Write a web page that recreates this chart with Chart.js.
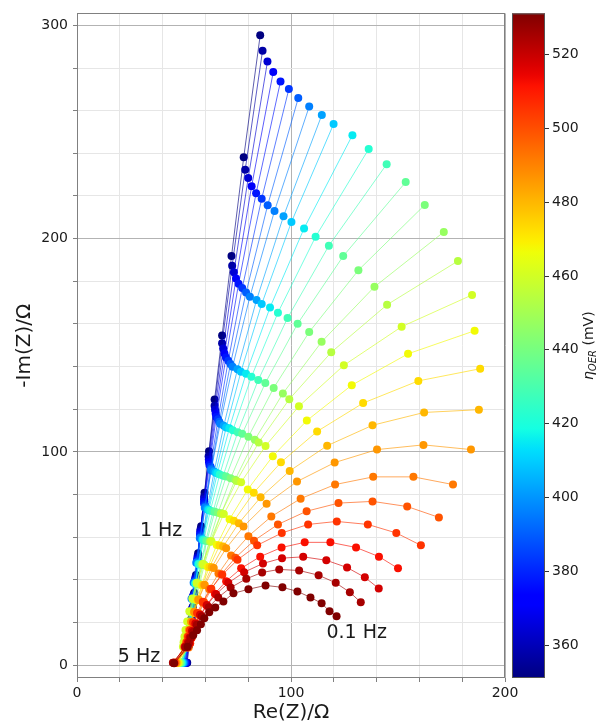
<!DOCTYPE html>
<html lang="en">
<head>
<meta charset="utf-8">
<title>Nyquist plots vs. OER overpotential</title>
<script src="https://cdn.jsdelivr.net/npm/chart.js@4.4.1/dist/chart.umd.min.js"></script>
<style>
  html, body { margin: 0; padding: 0; background: #ffffff; }
  #box { position: relative; width: 603px; height: 726px; }
</style>
</head>
<body>
<div id="box"><canvas id="nyquist"></canvas></div>
<script>
// overpotential of every spectrum (mV), lowest first
const overpotentials = [351, 357, 364, 370, 377, 383, 390, 396, 402, 409, 415, 422, 428, 435, 441,
  447, 454, 460, 467, 473, 480, 486, 492, 499, 505, 512, 518, 525, 531];

// frequency of each column (Hz), 0.1 Hz first
const frequencies = [0.1, 0.126, 0.158, 0.2, 0.251, 0.316, 0.398, 0.501, 0.631, 0.794,
  1, 1.26, 1.58, 2, 2.51, 3.16, 3.98, 5.01];

// Re(Z) in ohm, one row per spectrum
const reZ = [
  [85.6, 77.9, 72.2, 67.8, 64.3, 61.7, 59.6, 58.0, 56.6, 55.6, 54.8, 54.1, 53.6, 53.2, 52.9, 52.6, 52.4, 51.5],
  [86.7, 78.6, 72.5, 67.8, 64.3, 61.5, 59.4, 57.7, 56.4, 55.4, 54.6, 53.9, 53.4, 53.0, 52.7, 52.4, 52.2, 51.3],
  [89.0, 80.0, 73.3, 68.3, 64.5, 61.6, 59.4, 57.6, 56.3, 55.3, 54.4, 53.8, 53.3, 52.8, 52.5, 52.3, 52.0, 51.0],
  [91.7, 81.6, 74.3, 68.9, 64.8, 61.7, 59.4, 57.6, 56.3, 55.2, 54.3, 53.7, 53.2, 52.7, 52.4, 52.2, 52.0, 50.8],
  [95.1, 83.7, 75.5, 69.6, 65.1, 61.9, 59.4, 57.5, 56.1, 55.0, 54.1, 53.4, 52.9, 52.5, 52.2, 51.9, 51.7, 50.5],
  [99.0, 86.3, 77.2, 70.7, 65.9, 62.4, 59.8, 57.8, 56.3, 55.1, 54.3, 53.6, 53.0, 52.6, 52.3, 52.0, 51.8, 50.3],
  [103.4, 89.1, 79.0, 71.7, 66.5, 62.7, 59.9, 57.8, 56.2, 55.0, 54.1, 53.4, 52.8, 52.4, 52.1, 51.8, 51.6, 50.0],
  [108.5, 92.3, 80.8, 72.7, 66.9, 62.7, 59.7, 57.4, 55.7, 54.5, 53.5, 52.8, 52.2, 51.8, 51.4, 51.2, 50.9, 49.8],
  [114.4, 96.5, 83.9, 75.0, 68.6, 64.1, 60.8, 58.4, 56.6, 55.3, 54.3, 53.6, 53.0, 52.5, 52.2, 51.9, 51.7, 49.5],
  [119.9, 100.2, 86.3, 76.6, 69.7, 64.8, 61.2, 58.7, 56.8, 55.4, 54.4, 53.6, 53.0, 52.5, 52.1, 51.9, 51.6, 49.3],
  [128.7, 106.1, 90.2, 79.0, 71.2, 65.6, 61.6, 58.8, 56.7, 55.2, 54.1, 53.2, 52.6, 52.1, 51.7, 51.4, 51.2, 49.0],
  [136.3, 111.5, 93.9, 81.5, 72.8, 66.7, 62.3, 59.2, 57.0, 55.4, 54.2, 53.3, 52.6, 52.1, 51.7, 51.4, 51.2, 48.8],
  [144.7, 117.7, 98.4, 84.7, 75.1, 68.3, 63.6, 60.2, 57.8, 56.0, 54.7, 53.8, 53.1, 52.6, 52.2, 51.9, 51.6, 48.5],
  [153.6, 124.4, 103.1, 88.0, 77.2, 69.7, 64.4, 60.7, 58.0, 56.1, 54.7, 53.7, 53.0, 52.4, 52.0, 51.7, 51.4, 48.3],
  [162.5, 131.5, 108.5, 91.9, 80.1, 71.8, 65.9, 61.8, 58.9, 56.8, 55.3, 54.2, 53.4, 52.8, 52.4, 52.1, 51.8, 48.0],
  [171.4, 139.0, 114.3, 96.2, 83.1, 73.9, 67.4, 62.8, 59.5, 57.3, 55.6, 54.4, 53.6, 53.0, 52.5, 52.1, 51.9, 47.8],
  [178.0, 144.9, 118.8, 99.2, 84.9, 74.6, 67.3, 62.2, 58.6, 56.1, 54.3, 53.0, 52.1, 51.4, 50.9, 50.5, 50.3, 47.5],
  [184.6, 151.7, 124.7, 103.7, 88.1, 76.7, 68.6, 62.8, 58.8, 55.9, 53.9, 52.5, 51.5, 50.7, 50.2, 49.8, 49.5, 47.3],
  [185.8, 154.7, 128.4, 107.4, 91.5, 79.8, 71.3, 65.3, 61.1, 58.2, 56.1, 54.6, 53.5, 52.8, 52.2, 51.8, 51.5, 47.0],
  [188.4, 159.5, 133.7, 112.2, 95.3, 82.6, 73.3, 66.6, 61.9, 58.6, 56.3, 54.7, 53.5, 52.7, 52.1, 51.6, 51.1, 46.8],
  [187.8, 162.2, 138.1, 116.9, 99.4, 85.8, 75.6, 68.3, 63.0, 59.3, 56.7, 54.8, 53.5, 52.6, 51.9, 51.5, 50.9, 46.5],
  [184.1, 161.9, 140.2, 120.4, 102.8, 88.6, 77.8, 69.7, 63.9, 59.7, 56.8, 54.8, 53.3, 52.3, 51.6, 51.0, 50.3, 46.3],
  [175.7, 157.2, 138.4, 120.6, 104.5, 90.8, 80.1, 72.0, 66.1, 61.8, 58.8, 56.7, 55.3, 54.2, 53.5, 52.9, 52.2, 46.0],
  [169.1, 154.3, 138.1, 122.2, 107.3, 93.9, 82.7, 74.0, 67.5, 62.8, 59.4, 57.0, 55.3, 54.1, 53.3, 52.7, 51.7, 45.8],
  [160.7, 149.2, 135.9, 121.4, 108.0, 95.7, 84.2, 75.0, 67.9, 62.6, 58.8, 56.1, 54.2, 52.8, 51.9, 51.2, 50.2, 45.5],
  [150.0, 141.1, 130.4, 118.4, 106.4, 95.6, 85.6, 76.7, 69.7, 64.4, 60.5, 57.8, 55.8, 54.5, 53.5, 52.8, 51.5, 45.3],
  [141.0, 134.5, 126.2, 116.5, 105.7, 95.8, 86.9, 78.1, 70.7, 65.0, 60.7, 57.5, 55.3, 53.7, 52.6, 51.8, 50.5, 45.0],
  [132.6, 127.5, 120.9, 112.9, 103.8, 94.5, 86.5, 79.1, 71.8, 66.0, 61.6, 58.3, 56.0, 54.3, 53.1, 52.3, 50.7, 44.8],
  [121.3, 118.0, 114.3, 109.1, 103.0, 96.0, 88.1, 80.1, 73.1, 68.4, 64.6, 61.8, 59.5, 57.9, 56.1, 54.3, 51.7, 45.4]
];

// -Im(Z) in ohm, same layout as reZ
const negImZ = [
  [295.3, 238.1, 191.8, 154.6, 124.6, 100.3, 80.8, 65.1, 52.5, 42.3, 34.0, 27.4, 22.1, 17.8, 14.3, 11.5, 9.3, 1.2],
  [288.1, 232.3, 187.3, 151.0, 121.7, 98.0, 79.0, 63.6, 51.3, 41.3, 33.3, 26.8, 21.6, 17.4, 14.0, 11.3, 9.1, 1.2],
  [283.0, 228.4, 184.2, 148.5, 119.8, 96.5, 77.8, 62.7, 50.5, 40.7, 32.8, 26.4, 21.3, 17.1, 13.8, 11.1, 8.9, 1.2],
  [278.1, 224.6, 181.3, 146.2, 117.9, 95.1, 76.6, 61.7, 49.7, 40.1, 32.3, 26.0, 20.9, 16.9, 13.6, 10.9, 8.8, 1.2],
  [273.7, 221.3, 178.8, 144.3, 116.4, 93.9, 75.7, 61.0, 49.2, 39.6, 31.9, 25.7, 20.7, 16.7, 13.4, 10.8, 8.7, 1.2],
  [270.1, 218.7, 176.8, 142.8, 115.3, 93.0, 75.0, 60.5, 48.7, 39.3, 31.6, 25.5, 20.5, 16.6, 13.3, 10.7, 8.6, 1.2],
  [265.9, 215.7, 174.7, 141.2, 114.1, 92.1, 74.3, 59.9, 48.3, 38.9, 31.4, 25.3, 20.4, 16.4, 13.2, 10.6, 8.6, 1.2],
  [261.9, 213.0, 172.8, 139.9, 113.2, 91.4, 73.8, 59.5, 48.0, 38.7, 31.2, 25.1, 20.2, 16.3, 13.1, 10.6, 8.5, 1.2],
  [258.0, 210.5, 171.2, 138.8, 112.3, 90.8, 73.3, 59.2, 47.7, 38.5, 31.0, 25.0, 20.2, 16.2, 13.1, 10.5, 8.5, 1.2],
  [253.7, 207.8, 169.3, 137.6, 111.5, 90.2, 72.9, 58.9, 47.5, 38.3, 30.9, 24.9, 20.1, 16.2, 13.0, 10.5, 8.5, 1.2],
  [248.5, 204.8, 167.7, 136.7, 111.1, 90.0, 72.8, 58.8, 47.5, 38.3, 30.9, 24.9, 20.1, 16.2, 13.1, 10.5, 8.5, 1.2],
  [242.0, 200.9, 165.3, 135.2, 110.1, 89.4, 72.4, 58.6, 47.3, 38.2, 30.8, 24.9, 20.0, 16.2, 13.0, 10.5, 8.5, 1.2],
  [234.9, 196.7, 162.8, 133.7, 109.2, 88.8, 72.1, 58.4, 47.2, 38.1, 30.8, 24.8, 20.0, 16.1, 13.0, 10.5, 8.4, 1.2],
  [226.5, 191.8, 160.1, 132.3, 108.5, 88.5, 72.0, 58.3, 47.2, 38.2, 30.8, 24.9, 20.1, 16.2, 13.0, 10.5, 8.5, 1.2],
  [215.8, 185.2, 156.2, 130.0, 107.1, 87.7, 71.5, 58.1, 47.1, 38.1, 30.8, 24.8, 20.1, 16.2, 13.0, 10.5, 8.5, 1.2],
  [203.1, 177.4, 151.6, 127.4, 105.7, 87.0, 71.2, 58.0, 47.1, 38.1, 30.8, 24.9, 20.1, 16.2, 13.1, 10.6, 8.5, 1.2],
  [189.5, 169.0, 146.7, 124.7, 104.4, 86.4, 71.0, 58.0, 47.2, 38.3, 31.0, 25.1, 20.2, 16.3, 13.2, 10.6, 8.6, 1.2],
  [173.6, 158.7, 140.6, 121.4, 102.8, 85.8, 70.9, 58.1, 47.4, 38.6, 31.3, 25.3, 20.5, 16.5, 13.3, 10.8, 8.7, 1.2],
  [156.8, 146.0, 131.3, 114.7, 98.0, 82.4, 68.4, 56.3, 46.0, 37.5, 30.4, 24.6, 19.9, 16.1, 13.0, 10.5, 8.5, 1.2],
  [139.0, 133.3, 122.9, 109.6, 95.1, 80.9, 67.7, 56.1, 46.0, 37.6, 30.6, 24.8, 20.1, 16.3, 13.1, 10.6, 8.5, 1.2],
  [119.8, 118.5, 112.5, 102.9, 91.1, 78.7, 66.6, 55.6, 45.9, 37.7, 30.7, 25.0, 20.3, 16.4, 13.3, 10.7, 8.6, 1.2],
  [101.1, 103.3, 101.1, 95.0, 86.1, 75.7, 65.0, 54.8, 45.6, 37.6, 30.8, 25.1, 20.4, 16.5, 13.4, 10.8, 8.7, 1.2],
  [84.7, 88.3, 88.3, 84.7, 78.1, 69.7, 60.5, 51.4, 43.0, 35.6, 29.3, 23.9, 19.4, 15.8, 12.8, 10.3, 8.3, 1.2],
  [69.3, 74.4, 76.8, 76.0, 72.2, 66.0, 58.4, 50.4, 42.7, 35.7, 29.5, 24.2, 19.7, 16.0, 13.0, 10.5, 8.5, 1.2],
  [56.2, 62.0, 66.0, 67.4, 66.0, 62.0, 56.2, 49.4, 42.4, 35.8, 29.8, 24.5, 20.1, 16.4, 13.3, 10.8, 8.7, 1.2],
  [45.4, 50.9, 55.2, 57.6, 57.6, 55.2, 50.9, 45.4, 39.4, 33.5, 28.0, 23.2, 19.1, 15.6, 12.7, 10.3, 8.3, 1.2],
  [36.0, 41.2, 45.8, 49.2, 50.8, 50.2, 47.7, 43.6, 38.6, 33.3, 28.2, 23.6, 19.5, 16.0, 13.0, 10.6, 8.6, 1.2],
  [29.5, 34.2, 38.6, 42.2, 44.4, 44.9, 43.5, 40.5, 36.4, 31.8, 27.2, 22.9, 19.0, 15.6, 12.8, 10.4, 8.4, 1.2],
  [22.9, 25.3, 29.0, 31.8, 34.6, 36.5, 37.4, 35.6, 33.7, 29.9, 27.1, 24.8, 22.0, 19.2, 16.4, 14.0, 8.6, 0.9]
];

// axes: grid every 20 ohm, labels every 100 ohm
const xGridValues = [0, 20, 40, 60, 80, 100, 120, 140, 160, 180, 200];
const xTickLabels = [0, 100, 200];
const yGridValues = [0, 20, 40, 60, 80, 100, 120, 140, 160, 180, 200, 220, 240, 260, 280, 300];
const yTickLabels = [0, 100, 200, 300];

// colour bar
const cbMin = 351;
const cbMax = 531;
const cbTicks = [360, 380, 400, 420, 440, 460, 480, 500, 520];

// frequency notes written on the plot
const freqNotes = ['5 Hz', '1 Hz', '0.1 Hz'];
const freqNoteRe = [29.0, 39.3, 130.7];
const freqNoteIm = [3.7, 62.7, 15.0];

const FONT = '"DejaVu Sans", "Liberation Sans", sans-serif';
const INK = '#1a1a1a';

// matplotlib "jet"
function jet(t) {
  t = Math.min(1, Math.max(0, t));
  const seg = (pts) => {
    for (let i = 1; i < pts.length; i++) {
      if (t <= pts[i][0]) {
        const [x0, y0] = pts[i - 1];
        const [x1, y1] = pts[i];
        return y0 + (y1 - y0) * (t - x0) / (x1 - x0);
      }
    }
    return pts[pts.length - 1][1];
  };
  const r = seg([[0, 0], [0.35, 0], [0.66, 1], [0.89, 1], [1, 0.5]]);
  const g = seg([[0, 0], [0.125, 0], [0.375, 1], [0.64, 1], [0.91, 0], [1, 0]]);
  const b = seg([[0, 0.5], [0.11, 1], [0.34, 1], [0.65, 0], [1, 0]]);
  return [r, g, b].map((v) => Math.round(v * 255));
}

const datasets = reZ.map((row, j) => {
  const [r, g, b] = jet((overpotentials[j] - cbMin) / (cbMax - cbMin));
  return {
    label: overpotentials[j] + ' mV',
    data: row.map((re, k) => ({ x: re, y: negImZ[j][k] })),
    showLine: true,
    borderColor: `rgba(${r},${g},${b},0.8)`,
    borderWidth: 0.8,
    backgroundColor: `rgb(${r},${g},${b})`,
    pointRadius: 4,
    pointHoverRadius: 4,
    pointBorderWidth: 0,
    // higher overpotential drawn on top
    order: reZ.length - 1 - j,
  };
});

// frame, colour bar and the frequency notes
const extrasPlugin = {
  id: 'extras',
  afterDraw(chart) {
    const { ctx, chartArea: a, scales } = chart;
    ctx.save();

    ctx.strokeStyle = '#808080';
    ctx.lineWidth = 1;
    ctx.strokeRect(Math.round(a.left) + 0.5, Math.round(a.top) + 0.5,
      Math.round(a.right - a.left) - 1, Math.round(a.bottom - a.top) - 1);

    // colour bar
    const cbLeft = a.right + 7;
    const cbWidth = 33;
    const top = a.top;
    const bot = a.bottom;
    const grad = ctx.createLinearGradient(0, bot, 0, top);
    for (let i = 0; i <= 64; i++) {
      const [r, g, b] = jet(i / 64);
      grad.addColorStop(i / 64, `rgb(${r},${g},${b})`);
    }
    ctx.fillStyle = grad;
    ctx.fillRect(cbLeft, top, cbWidth, bot - top);
    ctx.strokeStyle = '#555';
    ctx.strokeRect(cbLeft + 0.5, top + 0.5, cbWidth - 1, bot - top - 1);

    ctx.fillStyle = INK;
    ctx.strokeStyle = '#333';
    ctx.font = `14px ${FONT}`;
    ctx.textAlign = 'left';
    ctx.textBaseline = 'middle';
    cbTicks.forEach((v) => {
      const y = Math.round(bot - (v - cbMin) / (cbMax - cbMin) * (bot - top)) + 0.5;
      ctx.beginPath();
      ctx.moveTo(cbLeft + cbWidth, y);
      ctx.lineTo(cbLeft + cbWidth + 4, y);
      ctx.stroke();
      ctx.fillText(String(v), cbLeft + cbWidth + 7, y);
    });

    // colour bar label: eta_OER (mV), rotated
    ctx.save();
    ctx.translate(588, (top + bot) / 2);
    ctx.rotate(-Math.PI / 2);
    const fEta = `italic 14px ${FONT}`;
    const fSub = `italic 10px ${FONT}`;
    const fUnit = `14px ${FONT}`;
    ctx.font = fEta; const w1 = ctx.measureText('η').width;
    ctx.font = fSub; const w2 = ctx.measureText('OER').width;
    ctx.font = fUnit; const w3 = ctx.measureText(' (mV)').width;
    let x = -(w1 + w2 + w3) / 2;
    ctx.textBaseline = 'alphabetic';
    ctx.font = fEta; ctx.fillText('η', x, 5); x += w1;
    ctx.font = fSub; ctx.fillText('OER', x, 8); x += w2;
    ctx.font = fUnit; ctx.fillText(' (mV)', x, 5);
    ctx.restore();

    // frequency notes
    ctx.font = `19px ${FONT}`;
    ctx.textAlign = 'center';
    ctx.textBaseline = 'middle';
    freqNotes.forEach((txt, i) => {
      ctx.fillText(txt, scales.x.getPixelForValue(freqNoteRe[i]), scales.y.getPixelForValue(freqNoteIm[i]));
    });

    ctx.restore();
  },
};

const gridColour = (labels) => (c) => (c.tick && labels.includes(c.tick.value) ? '#b3b3b3' : '#e6e6e6');

new Chart(document.getElementById('nyquist'), {
  type: 'scatter',
  data: { datasets },
  options: {
    responsive: true,
    maintainAspectRatio: false,
    animation: false,
    events: [],
    layout: { padding: { left: 0, right: 98, top: 12, bottom: 0 } },
    plugins: { legend: { display: false }, tooltip: { enabled: false } },
    scales: {
      x: {
        type: 'linear',
        min: 0,
        max: 200,
        afterBuildTicks: (s) => { s.ticks = xGridValues.map((v) => ({ value: v })); },
        afterFit: (s) => { s.height = 48; },
        border: { display: false },
        grid: { color: gridColour(xTickLabels), tickColor: '#808080', tickLength: 4 },
        ticks: {
          autoSkip: false,
          maxRotation: 0,
          padding: 3,
          color: INK,
          font: { family: FONT, size: 14 },
          callback: (v) => (xTickLabels.includes(v) ? String(v) : ''),
        },
        title: {
          display: true,
          text: 'Re(Z)/Ω',
          color: INK,
          font: { family: FONT, size: 20 },
          padding: { top: 0, bottom: 1 },
        },
      },
      y: {
        type: 'linear',
        min: -6,
        max: 305.6,
        afterBuildTicks: (s) => { s.ticks = yGridValues.map((v) => ({ value: v })); },
        afterFit: (s) => { s.width = 77; },
        border: { display: false },
        grid: { color: gridColour(yTickLabels), tickColor: '#808080', tickLength: 4 },
        ticks: {
          autoSkip: false,
          padding: 5,
          color: INK,
          font: { family: FONT, size: 14 },
          callback: (v) => (yTickLabels.includes(v) ? String(v) : ''),
        },
        title: {
          display: true,
          text: '-Im(Z)/Ω',
          color: INK,
          font: { family: FONT, size: 20 },
          padding: { top: 13, bottom: 0 },
        },
      },
    },
  },
  plugins: [extrasPlugin],
});
</script>
</body>
</html>
